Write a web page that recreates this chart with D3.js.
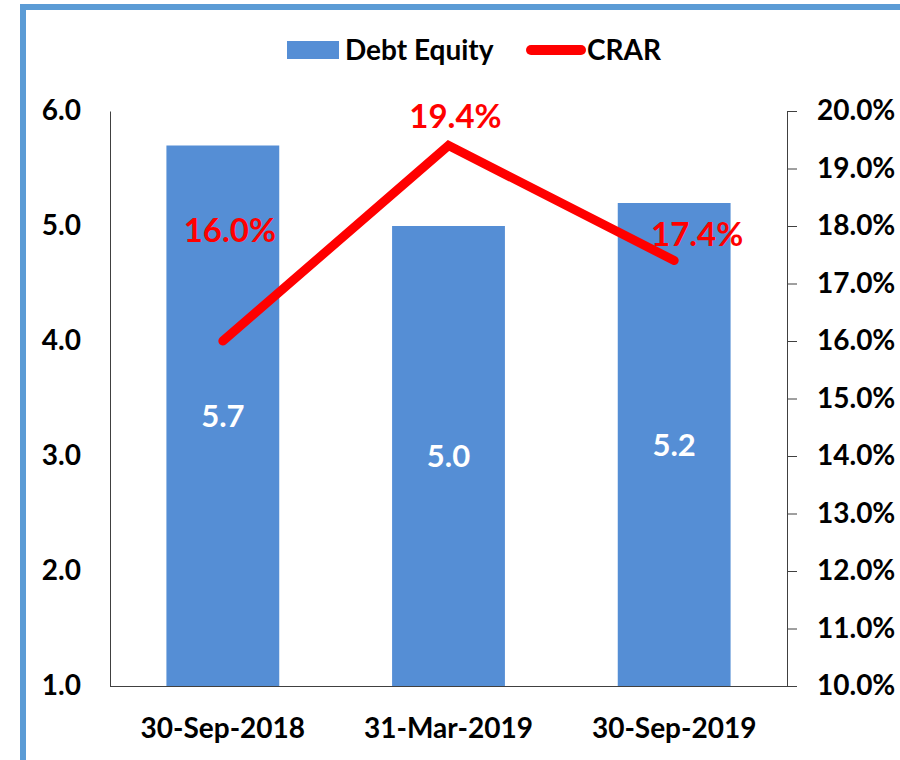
<!DOCTYPE html>
<html lang="en">
    <head>
        <meta charset="utf-8">
        <title>Debt Equity and CRAR</title>
        <script type="text/javascript" src="https://d3js.org/d3.v7.min.js"></script>
        <style type="text/css">
            body {
                margin: 0;
                background-color: white;
            }
            text {
                font-family: Lato, "Open Sans", sans-serif;
                font-weight: bold;
            }
            .axis path, .axis line {
                stroke: #404040;
            }
        </style>
    </head>
    <body>
        <svg width="900" height="760" id="svg1"></svg>

        <script type="text/javascript">

            // data
            const periods = ["30-Sep-2018", "31-Mar-2019", "30-Sep-2019"];
            const debtEquity = [5.7, 5.0, 5.2];
            const crar = [16.0, 19.4, 17.4];
            const leftTicks = [1, 2, 3, 4, 5, 6];
            const rightTicks = [10, 11, 12, 13, 14, 15, 16, 17, 18, 19, 20];

            const svg = d3.select("#svg1");
            const blue = "#558ED5";
            const red = "#FF0000";

            // plot area
            const plotL = 110, plotR = 787, plotT = 111, plotB = 686;

            // frame (left + top edges only show in the picture)
            svg.append("path")
                .attr("d", "M23,760 V7 H900")
                .style("fill", "none")
                .style("stroke", "#5B9BD5")
                .style("stroke-width", 6);

            const x = d3.scaleBand().domain(periods).range([plotL, plotR]).padding(0.5).paddingOuter(0.25);
            const yL = d3.scaleLinear().domain([1, 6]).range([plotB, plotT]);
            const yR = d3.scaleLinear().domain([10, 20]).range([plotB, plotT]);

            // bars
            svg.selectAll("rect.bar")
                .data(debtEquity)
                .enter()
                .append("rect")
                .attr("class", "bar")
                .attr("x", (d, i) => x(periods[i]))
                .attr("width", x.bandwidth())
                .attr("y", d => yL(d))
                .attr("height", d => yL(1) - yL(d))
                .style("fill", blue);

            // left axis (no ticks)
            const gL = svg.append("g")
                .attr("class", "axis")
                .attr("transform", `translate(${plotL},0)`)
                .call(d3.axisLeft(yL).tickValues(leftTicks).tickSize(0).tickPadding(29).tickFormat(d3.format(".1f")));
            gL.selectAll("text").style("font-size", "28px").style("fill", "black");

            // right axis, ticks outward
            const gR = svg.append("g")
                .attr("class", "axis")
                .attr("transform", `translate(${plotR},0)`)
                .call(d3.axisRight(yR).tickValues(rightTicks).tickSizeInner(10).tickSizeOuter(0).tickPadding(20).tickFormat(d => d.toFixed(1) + "%"));
            gR.selectAll("text").style("font-size", "28px").style("fill", "black");

            // bottom axis
            const gB = svg.append("g")
                .attr("class", "axis")
                .attr("transform", `translate(0,${plotB})`)
                .call(d3.axisBottom(x).tickSize(0).tickPadding(32));
            gB.select("path.domain").attr("d", `M${plotL},0.5H${plotR + 10}`);
            gB.selectAll("text").style("font-size", "28px").style("fill", "black");

            // bar labels
            svg.selectAll("text.barlab")
                .data(debtEquity)
                .enter()
                .append("text")
                .attr("class", "barlab")
                .attr("x", (d, i) => x(periods[i]) + x.bandwidth() / 2)
                .attr("y", d => (yL(d) + yL(1)) / 2)
                .attr("dy", "0.36em")
                .attr("text-anchor", "middle")
                .style("font-size", "31px")
                .style("fill", "white")
                .text(d => d.toFixed(1));

            // CRAR line
            const line = d3.line()
                .x((d, i) => x(periods[i]) + x.bandwidth() / 2)
                .y(d => yR(d));

            svg.append("path")
                .datum(crar)
                .attr("d", line)
                .style("fill", "none")
                .style("stroke", red)
                .style("stroke-width", 9)
                .style("stroke-linecap", "round")
                .style("stroke-linejoin", "miter");

            // CRAR labels (manually placed like in the sheet)
            const labelOffset = [[7, -99], [7, -18], [23, -15]];
            svg.selectAll("text.crarlab")
                .data(crar)
                .enter()
                .append("text")
                .attr("class", "crarlab")
                .attr("x", (d, i) => x(periods[i]) + x.bandwidth() / 2 + labelOffset[i][0])
                .attr("y", (d, i) => yR(d) + labelOffset[i][1])
                .attr("text-anchor", "middle")
                .style("font-size", "33px")
                .style("fill", red)
                .text(d => d.toFixed(1) + "%");

            // legend
            const lg = svg.append("g");
            lg.append("rect")
                .attr("x", 287).attr("y", 41)
                .attr("width", 52).attr("height", 18)
                .style("fill", blue);
            lg.append("text")
                .attr("x", 345).attr("y", 50).attr("dy", "0.36em")
                .style("font-size", "28px")
                .text("Debt Equity");
            lg.append("line")
                .attr("x1", 531).attr("x2", 581)
                .attr("y1", 50).attr("y2", 50)
                .style("stroke", red)
                .style("stroke-width", 10)
                .style("stroke-linecap", "round");
            lg.append("text")
                .attr("x", 587).attr("y", 50).attr("dy", "0.36em")
                .style("font-size", "28px")
                .text("CRAR");

        </script>
    </body>
</html>
